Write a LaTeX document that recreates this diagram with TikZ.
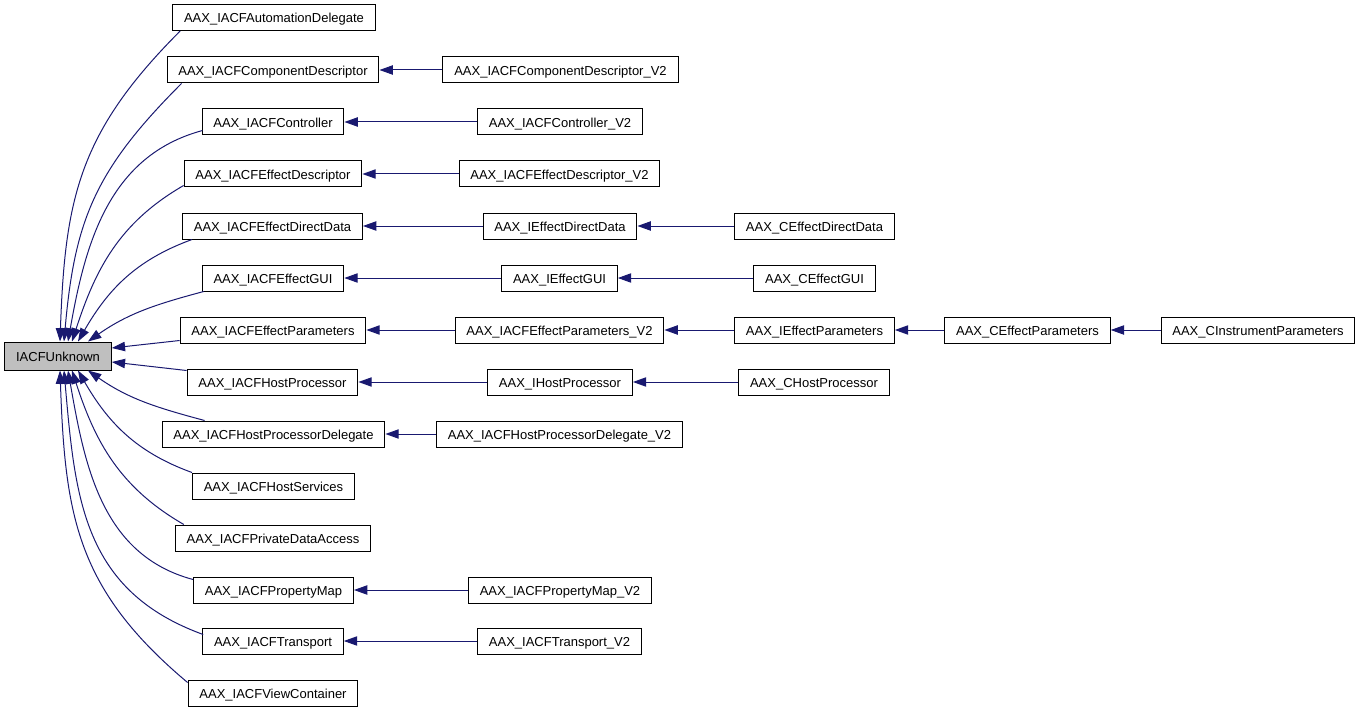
\documentclass[tikz,border=0pt]{standalone}
\usepackage{fontspec}
\setmainfont{Liberation Sans}
\usetikzlibrary{calc}
\usetikzlibrary{arrows.meta}
\definecolor{edgeblue}{HTML}{191970}
\definecolor{basegray}{HTML}{BFBFBF}

\begin{document}
\begin{tikzpicture}[x=0.75pt, y=0.75pt,
  cls/.style={draw, line width=0.75pt, inner xsep=8.5pt, inner ysep=0pt, minimum height=19.5pt, text height=8pt, text depth=0pt, font=\fontsize{9.75}{11}\selectfont},
  inh/.style={-{Triangle[length=10pt, width=7pt]}, edgeblue, line width=0.75pt}]

\useasboundingbox (0,0) rectangle (1363,-713);

\node[cls, fill=basegray, minimum height=21pt] (unk) at (58,-356) {IACFUnknown};

% first column
\node[cls] (autodel) at (274,-17.5) {AAX\_IACFAutomationDelegate};
\node[cls] (compdesc) at (273,-70) {AAX\_IACFComponentDescriptor};
\node[cls] (ctrl) at (273,-122) {AAX\_IACFController};
\node[cls] (effdesc) at (273,-174) {AAX\_IACFEffectDescriptor};
\node[cls] (effdd) at (272.5,-226) {AAX\_IACFEffectDirectData};
\node[cls] (effgui) at (273,-278) {AAX\_IACFEffectGUI};
\node[cls] (effpar) at (273,-330) {AAX\_IACFEffectParameters};
\node[cls] (hostproc) at (272.5,-382) {AAX\_IACFHostProcessor};
\node[cls] (hpdel) at (273.5,-434) {AAX\_IACFHostProcessorDelegate};
\node[cls] (hostsvc) at (273.5,-486) {AAX\_IACFHostServices};
\node[cls] (privdata) at (273,-538) {AAX\_IACFPrivateDataAccess};
\node[cls] (propmap) at (273.5,-590) {AAX\_IACFPropertyMap};
\node[cls] (transp) at (273,-641) {AAX\_IACFTransport};
\node[cls] (viewcont) at (273,-693) {AAX\_IACFViewContainer};

% second column
\node[cls] (compdesc2) at (560.5,-70) {AAX\_IACFComponentDescriptor\_V2};
\node[cls] (ctrl2) at (560,-122) {AAX\_IACFController\_V2};
\node[cls] (effdesc2) at (559.5,-174) {AAX\_IACFEffectDescriptor\_V2};
\node[cls] (ieffdd) at (560,-226) {AAX\_IEffectDirectData};
\node[cls] (ieffgui) at (559.5,-278) {AAX\_IEffectGUI};
\node[cls] (effpar2) at (559.5,-330) {AAX\_IACFEffectParameters\_V2};
\node[cls] (ihostproc) at (560,-382) {AAX\_IHostProcessor};
\node[cls] (hpdel2) at (559.5,-434) {AAX\_IACFHostProcessorDelegate\_V2};
\node[cls] (propmap2) at (560,-590) {AAX\_IACFPropertyMap\_V2};
\node[cls] (transp2) at (559.5,-641) {AAX\_IACFTransport\_V2};

% third to fifth column
\node[cls] (ceffdd) at (814.5,-226) {AAX\_CEffectDirectData};
\node[cls] (ceffgui) at (814.5,-278) {AAX\_CEffectGUI};
\node[cls] (ieffpar) at (814.5,-330) {AAX\_IEffectParameters};
\node[cls] (chostproc) at (814,-382) {AAX\_CHostProcessor};
\node[cls] (ceffpar) at (1027.5,-330) {AAX\_CEffectParameters};
\node[cls] (cinstpar) at (1258,-330) {AAX\_CInstrumentParameters};

% curved edges into the base
\draw[inh] ($(autodel.south west)+(8,0)$) to[out=225, in=88, looseness=1.1] ($(unk.north)+(2,0)$);
\draw[inh] ($(compdesc.south west)+(15,0)$) to[out=225, in=85, looseness=1.1] ($(unk.north)+(6,0)$);
\draw[inh] ($(ctrl.south west)+(1,5)$) to[out=195, in=80] ($(unk.north)+(10,0)$);
\draw[inh] ($(effdesc.south west)+(0,2)$) to[out=210, in=72] ($(unk.north)+(14,0)$);
\draw[inh] ($(effdd.south west)+(10,0)$) to[out=200, in=60] ($(unk.north)+(20,0)$);
\draw[inh] ($(effgui.south west)+(2,0)$) to[out=195, in=35] ($(unk.north)+(30,0)$);
\draw[inh] ($(effpar.south west)+(0,3)$) -- ($(unk.east)+(0,8)$);
\draw[inh] ($(hostproc.north west)+(0,-2)$) -- ($(unk.east)+(0,-6)$);
\draw[inh] ($(hpdel.north west)+(43,0)$) to[out=165, in=-35] ($(unk.south)+(30,0)$);
\draw[inh] (hostsvc.north west) to[out=160, in=-60] ($(unk.south)+(20,0)$);
\draw[inh] ($(privdata.north west)+(9,0)$) to[out=150, in=-72] ($(unk.south)+(14,0)$);
\draw[inh] ($(propmap.north west)+(0,-3)$) to[out=165, in=-80] ($(unk.south)+(10,0)$);
\draw[inh] ($(transp.north west)+(1,-7)$) to[out=160, in=-85, looseness=1.1] ($(unk.south)+(6,0)$);
\draw[inh] ($(viewcont.north west)+(0,-3)$) to[out=140, in=-88, looseness=1.1] ($(unk.south)+(2,0)$);

% straight edges
\draw[inh] (compdesc2) -- (compdesc);
\draw[inh] (ctrl2) -- (ctrl);
\draw[inh] (effdesc2) -- (effdesc);
\draw[inh] (ieffdd) -- (effdd);
\draw[inh] (ceffdd) -- (ieffdd);
\draw[inh] (ieffgui) -- (effgui);
\draw[inh] (ceffgui) -- (ieffgui);
\draw[inh] (effpar2) -- (effpar);
\draw[inh] (ieffpar) -- (effpar2);
\draw[inh] (ceffpar) -- (ieffpar);
\draw[inh] (cinstpar) -- (ceffpar);
\draw[inh] (ihostproc) -- (hostproc);
\draw[inh] (chostproc) -- (ihostproc);
\draw[inh] (hpdel2) -- (hpdel);
\draw[inh] (propmap2) -- (propmap);
\draw[inh] (transp2) -- (transp);

\end{tikzpicture}
\end{document}
